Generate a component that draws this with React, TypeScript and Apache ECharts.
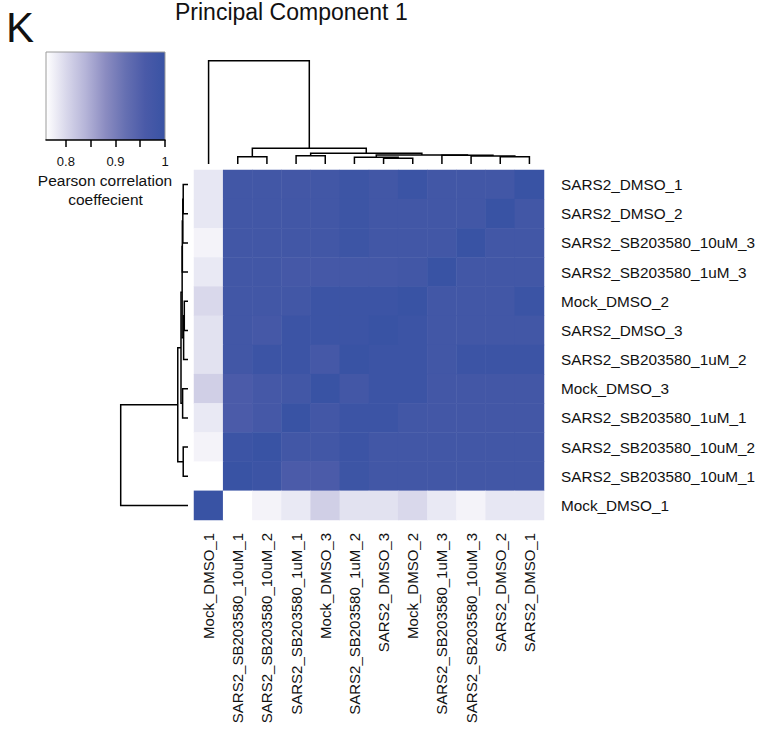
import React, { useEffect, useRef } from 'react';
import * as echarts from 'echarts';

// Sample order (heatmap columns left->right, heatmap rows bottom->top)
const sampleOrder = [
  'Mock_DMSO_1',
  'SARS2_SB203580_10uM_1',
  'SARS2_SB203580_10uM_2',
  'SARS2_SB203580_1uM_1',
  'Mock_DMSO_3',
  'SARS2_SB203580_1uM_2',
  'SARS2_DMSO_3',
  'Mock_DMSO_2',
  'SARS2_SB203580_1uM_3',
  'SARS2_SB203580_10uM_3',
  'SARS2_DMSO_2',
  'SARS2_DMSO_1',
];

// Pearson correlation, rows listed top -> bottom (SARS2_DMSO_1 first), columns in sampleOrder
const correlationRows: number[][] = [
  [0.785, 0.978, 0.978, 0.976, 0.978, 0.99, 0.978, 0.995, 0.978, 0.978, 0.978, 1],
  [0.785, 0.978, 0.978, 0.978, 0.978, 0.99, 0.978, 0.978, 0.978, 0.978, 1, 0.978],
  [0.772, 0.978, 0.978, 0.978, 0.978, 0.99, 0.978, 0.978, 0.978, 1, 0.978, 0.978],
  [0.783, 0.978, 0.978, 0.972, 0.972, 0.974, 0.974, 0.978, 1, 0.978, 0.978, 0.978],
  [0.8, 0.978, 0.978, 0.978, 0.993, 0.993, 0.993, 1, 0.978, 0.978, 0.978, 0.995],
  [0.79, 0.978, 0.972, 0.993, 0.993, 0.993, 1, 0.993, 0.978, 0.978, 0.978, 0.978],
  [0.79, 0.978, 0.993, 0.993, 0.972, 1, 0.993, 0.993, 0.978, 0.993, 0.993, 0.993],
  [0.81, 0.958, 0.972, 0.978, 1, 0.976, 0.993, 0.993, 0.976, 0.976, 0.976, 0.976],
  [0.783, 0.958, 0.972, 1, 0.976, 0.993, 0.993, 0.978, 0.976, 0.976, 0.976, 0.976],
  [0.772, 0.993, 1, 0.978, 0.978, 0.993, 0.978, 0.978, 0.978, 0.978, 0.978, 0.978],
  [0.76, 1, 0.993, 0.958, 0.958, 0.99, 0.978, 0.978, 0.978, 0.978, 0.978, 0.978],
  [1, 0.76, 0.772, 0.783, 0.81, 0.79, 0.79, 0.8, 0.783, 0.772, 0.785, 0.785],
];

// Hierarchical clustering linkage (children index leaves 0..11 or earlier merges 12+)
const linkLeft = [1, 3, 6, 5, 10, 9, 8, 15, 13, 12, 0];
const linkRight = [2, 4, 7, 14, 11, 16, 17, 18, 19, 20, 21];
const linkHeight = [0.071, 0.08, 0.055, 0.065, 0.071, 0.077, 0.084, 0.087, 0.104, 0.152, 1.0];

// Colour scale
const scaleMin = 0.76;
const scaleMax = 1;
const colorStops = ['#ffffff', '#d9d8eb', '#b5b4d8', '#8b8cc1', '#6670b2', '#4a5aa8', '#3953a4'];
const colorTicks = [0.8, 0.85, 0.9, 0.95, 1];
const colorTickLabels = [0.8, 0.9, 1];

const TEXT = '#111111';
const FONT = 'Liberation Sans, Arial, sans-serif';

function buildDendro(): number[][] {
  const pos: number[] = sampleOrder.map((_, i) => i);
  const h: number[] = sampleOrder.map(() => 0);
  const segs: number[][] = [];
  linkLeft.forEach((a, k) => {
    const b = linkRight[k];
    const mh = linkHeight[k];
    segs.push([pos[a], h[a], pos[b], h[b], mh]);
    pos.push((pos[a] + pos[b]) / 2);
    h.push(mh);
  });
  return segs;
}

export default function App() {
  const ref = useRef<HTMLDivElement>(null);
  useEffect(() => {
    if (!ref.current) return;
    const chart = echarts.init(ref.current, undefined, { renderer: 'svg' });
    const n = sampleOrder.length;
    const heatData: number[][] = [];
    correlationRows.forEach((row, r) => {
      row.forEach((v, c) => heatData.push([c, n - 1 - r, v]));
    });
    const segs = buildDendro();

    const gradient = new echarts.graphic.LinearGradient(
      0, 0, 1, 0,
      colorStops.map((c, i) => ({ offset: i / (colorStops.length - 1), color: c }))
    );

    const option: any = {
      animation: false,
      backgroundColor: '#ffffff',
      grid: [
        { left: 194, top: 170, width: 350, height: 350, outerBoundsMode: 'none' },
        { left: 194, top: 60.7, width: 350, height: 103.3, outerBoundsMode: 'none' },
        { left: 120.7, top: 170, width: 67.3, height: 350, outerBoundsMode: 'none' },
        { left: 46, top: 52, width: 119, height: 88, outerBoundsMode: 'none' },
      ],
      xAxis: [
        {
          type: 'category', gridIndex: 0, data: sampleOrder, position: 'bottom',
          axisLine: { show: false }, axisTick: { show: false }, splitLine: { show: false },
          axisLabel: { rotate: 90, fontSize: 15, margin: 13, color: TEXT, fontFamily: FONT },
        },
        { type: 'value', gridIndex: 1, min: -0.5, max: n - 0.5, show: false },
        { type: 'value', gridIndex: 2, min: 0, max: 1, inverse: true, show: false },
        {
          type: 'value', gridIndex: 3, min: scaleMin, max: scaleMax, position: 'bottom',
          axisLine: { show: true, onZero: false, lineStyle: { color: '#000', width: 1.5 } },
          axisTick: { show: true, inside: false, length: 7, customValues: colorTicks, lineStyle: { color: '#000', width: 1.5 } },
          axisLabel: {
            customValues: colorTickLabels, fontSize: 13, margin: 15, color: TEXT,
            fontFamily: FONT,
            formatter: (v: number) => String(v),
          },
          splitLine: { show: false },
        },
      ],
      yAxis: [
        {
          type: 'category', gridIndex: 0, data: sampleOrder, position: 'right',
          axisLine: { show: false }, axisTick: { show: false }, splitLine: { show: false },
          axisLabel: { fontSize: 15.3, margin: 17, color: TEXT, fontFamily: FONT },
        },
        { type: 'value', gridIndex: 1, min: 0, max: 1, show: false },
        { type: 'value', gridIndex: 2, min: -0.5, max: n - 0.5, show: false },
        { type: 'value', gridIndex: 3, min: 0, max: 1, show: false },
      ],
      visualMap: {
        type: 'continuous', show: false, min: scaleMin, max: scaleMax, seriesIndex: 0, dimension: 2,
        inRange: { color: colorStops },
      },
      series: [
        {
          type: 'heatmap', xAxisIndex: 0, yAxisIndex: 0, data: heatData,
          itemStyle: { borderWidth: 0 },
          emphasis: { disabled: true },
        },
        {
          type: 'custom', xAxisIndex: 1, yAxisIndex: 1, data: segs, silent: true,
          renderItem: (params: any, api: any) => {
            const p1 = api.coord([api.value(0), api.value(1)]);
            const p2 = api.coord([api.value(0), api.value(4)]);
            const p3 = api.coord([api.value(2), api.value(4)]);
            const p4 = api.coord([api.value(2), api.value(3)]);
            return {
              type: 'polyline',
              shape: { points: [p1, p2, p3, p4] },
              style: { stroke: '#000', lineWidth: 1.5, fill: null },
            };
          },
        },
        {
          type: 'custom', xAxisIndex: 2, yAxisIndex: 2, data: segs, silent: true,
          encode: { x: 1, y: 0 },
          renderItem: (params: any, api: any) => {
            const p1 = api.coord([api.value(1), api.value(0)]);
            const p2 = api.coord([api.value(4), api.value(0)]);
            const p3 = api.coord([api.value(4), api.value(2)]);
            const p4 = api.coord([api.value(3), api.value(2)]);
            return {
              type: 'polyline',
              shape: { points: [p1, p2, p3, p4] },
              style: { stroke: '#000', lineWidth: 1.5, fill: null },
            };
          },
        },
      ],
      graphic: [
        {
          type: 'rect', z: -1, silent: true,
          shape: { x: 46, y: 52, width: 119, height: 88 },
          style: { fill: gradient },
        },
        {
          type: 'polyline', silent: true,
          shape: { points: [[46, 140], [46, 52], [165, 52], [165, 140]] },
          style: { stroke: '#9a9a9a', lineWidth: 1, fill: null },
        },
        {
          type: 'text', x: 6, y: 27, silent: true,
          style: { text: 'K', fontSize: 42, fill: TEXT, fontFamily: FONT, align: 'left', verticalAlign: 'middle' },
        },
        {
          type: 'text', x: 175, y: 0, silent: true,
          style: { text: 'Principal Component 1', fontSize: 23, fill: TEXT, fontFamily: FONT, align: 'left', verticalAlign: 'top' },
        },
        {
          type: 'text', x: 105, y: 180, silent: true,
          style: { text: 'Pearson correlation', fontSize: 15.5, fill: TEXT, fontFamily: FONT, align: 'center', verticalAlign: 'middle' },
        },
        {
          type: 'text', x: 105.5, y: 199, silent: true,
          style: { text: 'coeffecient', fontSize: 15.5, fill: TEXT, fontFamily: FONT, align: 'center', verticalAlign: 'middle' },
        },
      ],
    };
    chart.setOption(option);
    return () => chart.dispose();
  }, []);
  return (
    <div
      ref={ref}
      style={{ position: 'absolute', left: 0, top: 0, width: 762, height: 729, background: '#fff' }}
    />
  );
}
